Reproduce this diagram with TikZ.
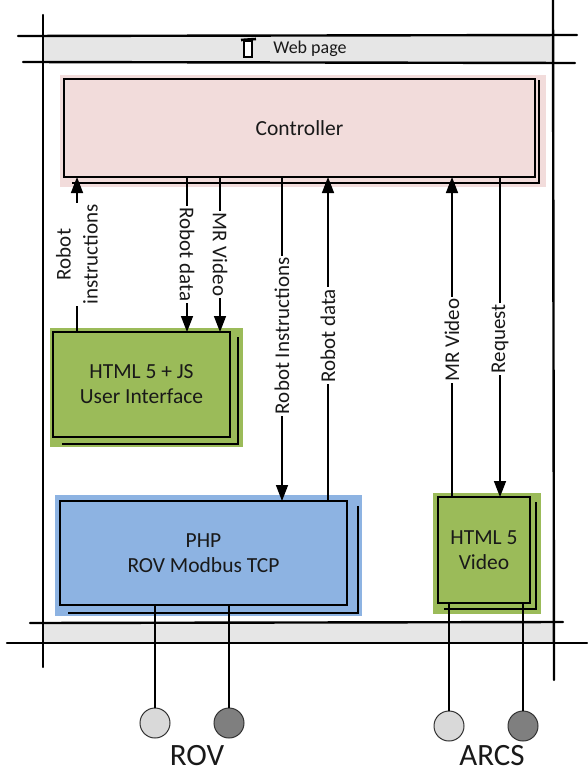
\documentclass[tikz,border=0pt]{standalone}
\usepackage{fontspec}
\setmainfont{Carlito}
\usetikzlibrary{arrows.meta}
\pgfdeclarelayer{back}
\pgfsetlayers{back,main}
\definecolor{pinkc}{HTML}{F2DCDB}
\definecolor{greenc}{HTML}{9BBB59}
\definecolor{bluec}{HTML}{8DB3E2}
\definecolor{barc}{HTML}{E6E6E6}
\definecolor{lightc}{HTML}{D9D9D9}
\definecolor{darkc}{HTML}{7F7F7F}
\begin{document}
\begin{tikzpicture}[x=1pt,y=-1pt,
  frame/.style={line width=2.4pt, line cap=round},
  outline/.style={line width=2pt},
  box/.style={font=\fontsize{21.5}{25}\selectfont, align=center, text=black!90, draw=black, line width=2.2pt, inner sep=0pt, outer sep=0pt},
  conn/.style={line width=1.5pt},
  arr/.style={conn, -{Triangle[width=12pt,length=16pt]}},
  lab/.style={font=\fontsize{21}{27}\selectfont, fill=white, inner sep=1.5pt, align=center, text=black!90},
  dot/.style={circle, draw=black!80, line width=1pt, minimum size=30pt, inner sep=0pt},
  big/.style={font=\fontsize{31}{36}\selectfont, text=black!90, inner sep=1pt},
]
\useasboundingbox (0,0) rectangle (587,774);

% bars and frame
\fill[barc] (43,36) rectangle (553,62);
\fill[barc] (43,623) rectangle (553,643);
\draw[frame] (18,36) -- (577,35);
\draw[frame] (23,62) -- (575,63);
\draw[frame] (30,623) -- (563,622);
\draw[frame] (7,643) -- (587,643);
\draw[frame] (43,15) -- (43,667);
\draw[frame] (553,0) -- (554,680);

% web page title
\node[font=\fontsize{18}{20}\selectfont, text=black!90] (web) at (310,49) {Web page};
\draw[line width=1.2pt, fill=white] (244,41) rectangle (252,57);
\draw[line width=2.6pt] (241,40) -- (256,39);

% controller
\node[box, fill=pinkc, minimum width=471pt, minimum height=98pt] (ctrl) at (299.5,128) {Controller};
\begin{pgfonlayer}{back}
\fill[pinkc] ([shift={(-4,-4)}]ctrl.north west) rectangle ([shift={(11,10)}]ctrl.south east);
\draw[outline] ([shift={(4,1)}]ctrl.north east) |- ([shift={(8,6)}]ctrl.south west);
\end{pgfonlayer}

% HTML 5 + JS
\node[box, fill=greenc, minimum width=177pt, minimum height=105pt] (html) at (141.5,384.5) {HTML 5 + JS\\User Interface};
\begin{pgfonlayer}{back}
\fill[greenc] ([shift={(-3,-4)}]html.north west) rectangle ([shift={(13,10)}]html.south east);
\draw[outline] ([shift={(8,5)}]html.north east) |- ([shift={(9,7)}]html.south west);
\end{pgfonlayer}

% PHP
\node[box, fill=bluec, minimum width=287pt, minimum height=104pt] (php) at (203.5,553) {PHP\\ROV Modbus TCP};
\begin{pgfonlayer}{back}
\fill[bluec] ([shift={(-5,-6)}]php.north west) rectangle ([shift={(15,11)}]php.south east);
\draw[outline] ([shift={(11,5)}]php.north east) |- ([shift={(8,8)}]php.south west);
\end{pgfonlayer}

% HTML 5 Video
\node[box, fill=greenc, minimum width=92pt, minimum height=106pt] (video) at (484,550) {HTML 5\\Video};
\begin{pgfonlayer}{back}
\fill[greenc] ([shift={(-5,-4)}]video.north west) rectangle ([shift={(11,11)}]video.south east);
\draw[outline] ([shift={(6,5)}]video.north east) |- ([shift={(6,6)}]video.south west);
\end{pgfonlayer}

% connectors
\draw[arr] (html.north -| 77,0) -- node[lab, rotate=90, pos=0.5] {Robot\\instructions} (ctrl.south -| 77,0);
\draw[arr] (ctrl.south -| 187,0) -- node[lab, rotate=-90, pos=0.5] {Robot data} (html.north -| 187,0);
\draw[arr] (ctrl.south -| 220,0) -- node[lab, rotate=-90, pos=0.5] {MR Video} (html.north -| 220,0);
\draw[arr] (ctrl.south -| 282,0) -- node[lab, rotate=90, pos=0.49] {Robot Instructions} (php.north -| 282,0);
\draw[arr] (php.north -| 328,0) -- node[lab, rotate=90, pos=0.51] {Robot data} (ctrl.south -| 328,0);
\draw[arr] (video.north -| 452,0) -- node[lab, rotate=90, pos=0.49] {MR Video} (ctrl.south -| 452,0);
\draw[arr] (ctrl.south -| 500,0) -- node[lab, rotate=90, pos=0.506] {Request} (video.north -| 500,0);

% endpoints
\node[dot, fill=lightc] (rovA) at (155,723) {};
\node[dot, fill=darkc] (rovB) at (229,723) {};
\node[dot, fill=lightc] (arcsA) at (449,726) {};
\node[dot, fill=darkc] (arcsB) at (523,726) {};
\draw[conn] (php.south -| rovA.north) -- (rovA.north);
\draw[conn] (php.south -| rovB.north) -- (rovB.north);
\draw[conn] (video.south -| arcsA.north) -- (arcsA.north);
\draw[conn] (video.south -| arcsB.north) -- (arcsB.north);
\node[big] (rov) at (197,756) {ROV};
\node[big] (arcs) at (492,756) {ARCS};
\end{tikzpicture}
\end{document}
